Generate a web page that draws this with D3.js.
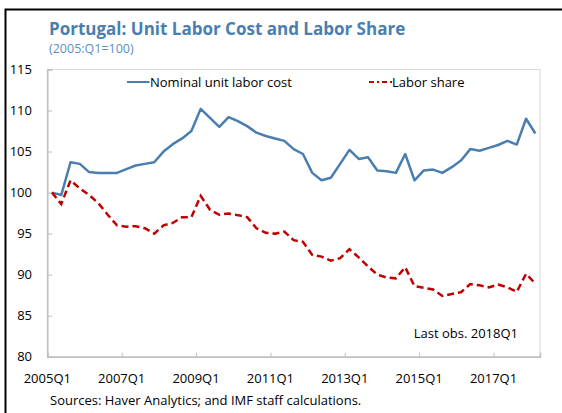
<!DOCTYPE html>
<html>
<head>
<meta charset="utf-8">
<script src="https://cdn.jsdelivr.net/npm/d3@7"></script>
<style>
  html, body { margin: 0; padding: 0; background: #fff; }
  svg { display: block; font-family: "Open Sans", "Noto Sans", sans-serif; }
</style>
</head>
<body>
<svg id="chart" width="562" height="413"></svg>
<script>
// ---- Data (2005Q1 .. 2018Q1, quarterly) ----
const startYear = 2005;
const nominalULC = [100.0, 99.7, 103.7, 103.5, 102.5, 102.4, 102.4, 102.4, 102.85, 103.3,
  103.5, 103.7, 105.0, 105.9, 106.6, 107.5, 110.2, 109.1, 108.0, 109.2,
  108.7, 108.1, 107.3, 106.9, 106.6, 106.3, 105.3, 104.7, 102.4, 101.5,
  101.8, 103.5, 105.2, 104.1, 104.3, 102.7, 102.6, 102.4, 104.7, 101.5,
  102.7, 102.8, 102.4, 103.1, 103.9, 105.3, 105.1, 105.45, 105.8, 106.3,
  105.85, 109.0, 107.2];
const laborShare = [100.0, 98.6, 101.5, 100.5, 99.7, 98.7, 97.3, 96.0, 95.85, 95.9,
  95.65, 95.0, 96.0, 96.3, 97.0, 97.0, 99.6, 97.9, 97.3, 97.45,
  97.25, 97.0, 95.65, 95.1, 95.0, 95.25, 94.2, 94.0, 92.4, 92.2,
  91.7, 92.0, 93.1, 92.1, 91.0, 90.0, 89.65, 89.55, 90.9, 88.6,
  88.4, 88.2, 87.4, 87.65, 87.85, 88.85, 88.7, 88.45, 88.8, 88.45,
  87.9, 90.1, 88.9];
const quarters = nominalULC.map((_, i) => `${startYear + Math.floor(i / 4)}Q${i % 4 + 1}`);
const xTickLabels = ["2005Q1", "2007Q1", "2009Q1", "2011Q1", "2013Q1", "2015Q1", "2017Q1"];
const yTicks = [80, 85, 90, 95, 100, 105, 110, 115];
const seriesNames = ["Nominal unit labor cost", "Labor share"];
const titleText = "Portugal: Unit Labor Cost and Labor Share";
const subtitleText = "(2005:Q1=100)";
const noteText = "Last obs. 2018Q1";
const sourceText = "Sources: Haver Analytics; and IMF staff calculations.";

// ---- Layout ----
const svg = d3.select("#chart");
const plot = { left: 47.3, right: 540, top: 69.5, bottom: 356.7 };
const blue = "#4a7eb0", red = "#c00000";

// outer black frame (left & top visible)
svg.append("path")
  .attr("d", `M5.5,413 V9.5 H562`)
  .attr("fill", "none").attr("stroke", "#000").attr("stroke-width", 2);

const x = d3.scaleLinear().domain([0, quarters.length]).range([plot.left, plot.right]);
const y = d3.scaleLinear().domain([80, 115]).range([plot.bottom, plot.top]);

// plot frame
svg.append("rect")
  .attr("x", plot.left).attr("y", plot.top)
  .attr("width", plot.right - plot.left).attr("height", plot.bottom - plot.top)
  .attr("fill", "none").attr("stroke", "#d9d9d9").attr("stroke-width", 1);

// Y axis
const yAxis = d3.axisRight(y).tickValues(yTicks).tickSize(5).tickFormat("");
const gy = svg.append("g").attr("transform", `translate(${plot.left},0)`).call(yAxis);
gy.select(".domain").attr("stroke", "#bfbfbf").attr("stroke-width", 1.5);
gy.selectAll(".tick line").attr("stroke", "#bfbfbf");
svg.append("g").selectAll("text").data(yTicks).join("text")
  .attr("x", 32).attr("y", d => y(d) + 4.5)
  .attr("text-anchor", "end").attr("font-size", 13).attr("fill", "#000")
  .text(d => d);

// X axis
const tickIdx = xTickLabels.map(l => quarters.indexOf(l));
const xAxis = d3.axisTop(x).tickValues(tickIdx).tickSize(4).tickFormat("");
const gx = svg.append("g").attr("transform", `translate(0,${plot.bottom})`).call(xAxis);
gx.select(".domain").attr("stroke", "#bfbfbf").attr("stroke-width", 1.5);
gx.selectAll(".tick line").attr("stroke", "#bfbfbf");
svg.append("g").selectAll("text").data(xTickLabels).join("text")
  .attr("x", d => x(quarters.indexOf(d))).attr("y", 383)
  .attr("text-anchor", "middle").attr("font-size", 13).attr("fill", "#000")
  .text(d => d);

// Lines
const line = d3.line().x((d, i) => x(i + 0.5)).y(d => y(d)).curve(d3.curveLinear);
svg.append("path").datum(nominalULC).attr("d", line)
  .attr("fill", "none").attr("stroke", blue).attr("stroke-width", 2.5)
  .attr("stroke-linejoin", "round");
svg.append("path").datum(laborShare).attr("d", line)
  .attr("fill", "none").attr("stroke", red).attr("stroke-width", 2.5)
  .attr("stroke-dasharray", "7,4");

// Legend
const lg = svg.append("g");
lg.append("line").attr("x1", 127).attr("x2", 149.5).attr("y1", 82).attr("y2", 82)
  .attr("stroke", blue).attr("stroke-width", 2);
lg.append("text").attr("x", 150).attr("y", 86.5).attr("font-size", 13).text(seriesNames[0]);
lg.append("line").attr("x1", 369).attr("x2", 392).attr("y1", 82).attr("y2", 82)
  .attr("stroke", red).attr("stroke-width", 2).attr("stroke-dasharray", "5,3,2,3");
lg.append("text").attr("x", 392).attr("y", 86.5).attr("font-size", 13).text(seriesNames[1]);

// Titles
svg.append("text").attr("x", 49).attr("y", 35).attr("font-size", 17)
  .attr("font-weight", "bold").attr("fill", blue).text(titleText);
svg.append("text").attr("x", 49).attr("y", 53).attr("font-size", 12.5)
  .attr("fill", "#5b8fc4").text(subtitleText);

// Note & sources
svg.append("text").attr("x", 518).attr("y", 338).attr("text-anchor", "end")
  .attr("font-size", 13).text(noteText);
svg.append("text").attr("x", 50).attr("y", 405).attr("font-size", 13).text(sourceText);
</script>
</body>
</html>
